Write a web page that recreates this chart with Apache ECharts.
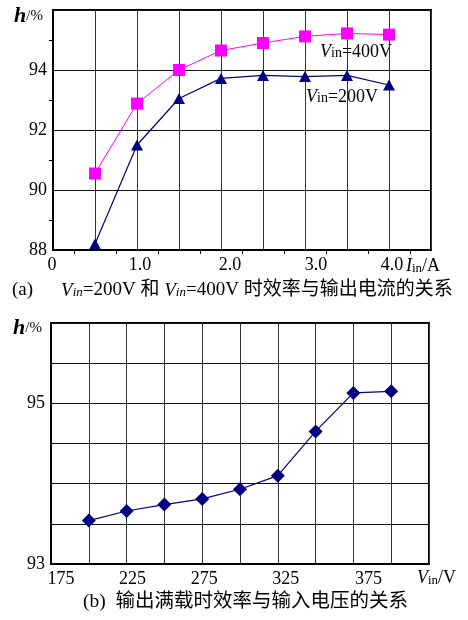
<!DOCTYPE html>
<html>
<head>
<meta charset="utf-8">
<script src="https://cdn.jsdelivr.net/npm/echarts@6/dist/echarts.min.js"></script>
<style>
html,body{margin:0;padding:0;background:#fff;}
#c{width:468px;height:620px;}
</style>
</head>
<body>
<div id="c"></div>
<script>
// ---- data ----
const currentA = [0.5, 1.0, 1.5, 2.0, 2.5, 3.0, 3.5, 4.0];
const eff400V = [90.55, 92.88, 94.0, 94.65, 94.9, 95.12, 95.22, 95.18];
const eff200V = [88.2, 91.5, 93.05, 93.72, 93.82, 93.78, 93.82, 93.5];
const vinV = [200, 225, 250, 275, 300, 325, 350, 375, 400];
const effFullLoad = [93.54, 93.66, 93.74, 93.81, 93.93, 94.10, 94.65, 95.13, 95.15];
const topXTicks = [0, 1, 2, 3, 4];
const topYTicks = [88, 90, 92, 94];
const botXTicks = [175, 225, 275, 325, 375];
const botYTicks = [93, 95];

// label nudges (pixels, style only)
const topXShift = [-1, 3, 9, 11, 3];
const botXShift = [10, 6, 2, 8, 15];

const SERIF = "'Liberation Serif','Times New Roman',serif";
const CJK = "'Liberation Serif','Noto Sans CJK SC',serif";
const FS = 18;

const chart = echarts.init(document.getElementById('c'), null, {renderer: 'canvas'});

function pairs(xs, ys) { return xs.map((x, i) => [x, ys[i]]); }
function shiftRich(shifts) {
  const r = {};
  shifts.forEach((s, i) => {
    r['s' + i] = {fontFamily: SERIF, fontSize: FS, color: '#000',
      padding: s >= 0 ? [0, 0, 0, 2 * s] : [0, -2 * s, 0, 0]};
  });
  return r;
}

const gridLine = {show: true, lineStyle: {color: '#111', width: 1}};
const vGridLine = {show: true, lineStyle: {color: '#333', width: 1}};
const axisLine = {show: true, onZero: false, lineStyle: {color: '#000', width: 2}};
const labelStyle = {color: '#000', fontFamily: SERIF, fontSize: FS};

const option = {
  animation: false,
  backgroundColor: '#fff',
  grid: [
    {left: 53, top: 10, width: 378, height: 240, show: true, borderColor: '#000', borderWidth: 2, containLabel: false},
    {left: 51, top: 323, width: 378, height: 241, show: true, borderColor: '#000', borderWidth: 2, containLabel: false}
  ],
  xAxis: [
    {
      type: 'value', gridIndex: 0, min: 0, max: 4.5, interval: 0.5,
      axisLine: axisLine,
      axisTick: {show: false},
      minorTick: {show: true, splitNumber: 2, length: 4, lineStyle: {color: '#000', width: 1}},
      axisLabel: Object.assign({}, labelStyle, {
        margin: 6,
        showMinLabel: true, showMaxLabel: true,
        formatter: v => {
          const r = Math.round(v * 10) / 10;
          const k = topXTicks.indexOf(r);
          if (k < 0) return '';
          return '{s' + k + '|' + (r === 0 ? '0' : r.toFixed(1)) + '}';
        },
        rich: shiftRich(topXShift)
      }),
      splitLine: vGridLine
    },
    {
      type: 'value', gridIndex: 1, min: 175, max: 425, interval: 25,
      axisLine: axisLine,
      axisTick: {show: false},
      axisLabel: Object.assign({}, labelStyle, {
        margin: 6,
        showMinLabel: true, showMaxLabel: true,
        formatter: v => {
          const k = botXTicks.indexOf(v);
          return k < 0 ? '' : '{s' + k + '|' + v + '}';
        },
        rich: shiftRich(botXShift)
      }),
      splitLine: vGridLine
    }
  ],
  yAxis: [
    {
      type: 'value', gridIndex: 0, min: 88, max: 96, interval: 2,
      axisLine: axisLine,
      axisTick: {show: false},
      minorTick: {show: true, splitNumber: 2, length: 4, lineStyle: {color: '#000', width: 1}},
      axisLabel: Object.assign({}, labelStyle, {
        margin: 6,
        formatter: v => topYTicks.includes(v) ? String(v) : ''
      }),
      splitLine: gridLine
    },
    {
      type: 'value', gridIndex: 1, min: 93, max: 96, interval: 0.5,
      axisLine: axisLine,
      axisTick: {show: false},
      axisLabel: Object.assign({}, labelStyle, {
        margin: 6,
        formatter: v => botYTicks.includes(v) ? String(v) : ''
      }),
      splitLine: gridLine
    }
  ],
  series: [
    {
      name: 'Vin=400V', type: 'line', xAxisIndex: 0, yAxisIndex: 0,
      data: pairs(currentA, eff400V),
      symbol: 'rect', symbolSize: 12,
      itemStyle: {color: '#ff00ff'},
      lineStyle: {color: '#ff00ff', width: 1}
    },
    {
      name: 'Vin=200V', type: 'line', xAxisIndex: 0, yAxisIndex: 0,
      data: pairs(currentA, eff200V),
      symbol: 'triangle', symbolSize: [12, 11],
      itemStyle: {color: '#000080'},
      lineStyle: {color: '#000080', width: 1.2}
    },
    {
      name: 'fullload', type: 'line', xAxisIndex: 1, yAxisIndex: 1,
      data: pairs(vinV, effFullLoad),
      symbol: 'diamond', symbolSize: [14, 14],
      itemStyle: {color: '#000080'},
      lineStyle: {color: '#000080', width: 1.2}
    }
  ],
  graphic: [
    {type: 'text', x: 14, y: 5, style: {text: '{h|h}{p|/%}', rich: {
      h: {fontFamily: SERIF, fontSize: 22, fontStyle: 'italic', fontWeight: 'bold', fill: '#000'},
      p: {fontFamily: SERIF, fontSize: 15, fill: '#000'}}}},
    {type: 'text', x: 13, y: 317, style: {text: '{h|h}{p|/%}', rich: {
      h: {fontFamily: SERIF, fontSize: 22, fontStyle: 'italic', fontWeight: 'bold', fill: '#000'},
      p: {fontFamily: SERIF, fontSize: 15, fill: '#000'}}}},
    {type: 'text', x: 406, y: 257, style: {text: '{i|I}{s|in}{n|/A}', rich: {
      i: {fontFamily: SERIF, fontSize: 18, fontStyle: 'italic', fill: '#000'},
      s: {fontFamily: SERIF, fontSize: 13, fill: '#000', padding: [5, 0, 0, 0]},
      n: {fontFamily: SERIF, fontSize: 18, fill: '#000'}}}},
    {type: 'text', x: 417, y: 569, style: {text: '{i|V}{s|in}{n|/V}', rich: {
      i: {fontFamily: SERIF, fontSize: 18, fontStyle: 'italic', fill: '#000'},
      s: {fontFamily: SERIF, fontSize: 13, fill: '#000', padding: [5, 0, 0, 0]},
      n: {fontFamily: SERIF, fontSize: 18, fill: '#000'}}}},
    {type: 'text', x: 320, y: 43, style: {text: '{i|V}{s|in}{n|=400V}', rich: {
      i: {fontFamily: SERIF, fontSize: 18, fontStyle: 'italic', fill: '#000'},
      s: {fontFamily: SERIF, fontSize: 14, fill: '#000', padding: [3, 0, 0, 0]},
      n: {fontFamily: SERIF, fontSize: 18, fill: '#000'}}}},
    {type: 'text', x: 306, y: 88, style: {text: '{i|V}{s|in}{n|=200V}', rich: {
      i: {fontFamily: SERIF, fontSize: 18, fontStyle: 'italic', fill: '#000'},
      s: {fontFamily: SERIF, fontSize: 14, fill: '#000', padding: [3, 0, 0, 0]},
      n: {fontFamily: SERIF, fontSize: 18, fill: '#000'}}}},
    {type: 'text', x: 12, y: 281, style: {text: '{n|(a)}{g|}{i|V}{s|in}{n|=200V 和 }{i|V}{s|in}{n|=400V 时效率与输出电流的关系}', rich: {
      n: {fontFamily: CJK, fontSize: 19, fill: '#000'},
      g: {width: 28},
      i: {fontFamily: SERIF, fontSize: 19, fontStyle: 'italic', fill: '#000'},
      s: {fontFamily: SERIF, fontSize: 13, fontStyle: 'italic', fill: '#000', padding: [5, 0, 0, 0]}}}},
    {type: 'text', x: 83, y: 592, style: {text: '(b)  输出满载时效率与输入电压的关系', font: "19.5px 'Liberation Serif','Noto Sans CJK SC',serif", fill: '#000'}}
  ]
};
chart.setOption(option);
</script>
</body>
</html>
